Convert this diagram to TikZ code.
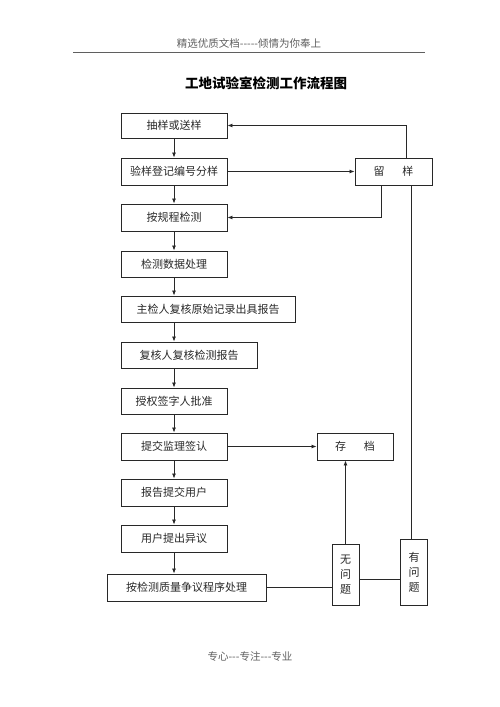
\documentclass[tikz,border=0pt]{standalone}
\usepackage{fontspec}
\setmainfont{Noto Sans CJK SC}
\usetikzlibrary{arrows.meta}
\definecolor{hdr}{RGB}{95,95,95}
\definecolor{ink}{RGB}{40,40,40}
\tikzset{
  box/.style={draw=ink, line width=0.9pt, minimum height=26pt, inner sep=0pt, text=ink, font=\fontsize{11}{13}\selectfont},
  vbox/.style={draw=ink, line width=0.9pt, minimum width=27pt, inner sep=0pt, text=ink, align=center, font=\fontsize{11}{15}\selectfont},
  conn/.style={draw=ink, line width=0.8pt},
  arr/.style={conn, -{Latex[length=5pt,width=4pt]}},
}
\begin{document}
\begin{tikzpicture}[x=1pt,y=-1pt]
\useasboundingbox (0,0) rectangle (500,707);
% header
\node[text=hdr, font=\fontsize{10.5}{12}\selectfont] (hdr) at (249,43) {精选优质文档-{}-{}-{}-{}-倾情为你奉上};
\coordinate (hl) at (73,52);
\coordinate (hr) at (425,52);
\draw[hdr, line width=0.7pt] (hl) -- (hr);
\node[font=\fontsize{13.5}{15}\selectfont\bfseries] (title) at (266,83) {工地试验室检测工作流程图};
\node[text=hdr, font=\fontsize{10.5}{12}\selectfont] (ftr) at (250,656) {专心-{}-{}-专注-{}-{}-专业};
% left column
\node[box, minimum width=106pt, minimum height=25pt] (b1) at (174,125.5) {抽样或送样};
\node[box, minimum width=106pt, minimum height=27pt] (b2) at (174,171.5) {验样登记编号分样};
\node[box, minimum width=106pt, minimum height=27pt] (b3) at (174,217.5) {按规程检测};
\node[box, minimum width=106pt] (b4) at (174,264) {检测数据处理};
\node[box, minimum width=174pt] (b5) at (208,309) {主检人复核原始记录出具报告};
\node[box, minimum width=136pt] (b6) at (189,355) {复核人复核检测报告};
\node[box, minimum width=106pt] (b7) at (174,401) {授权签字人批准};
\node[box, minimum width=106pt, minimum height=27pt] (b8) at (174,446.5) {提交监理签认};
\node[box, minimum width=106pt, minimum height=27pt] (b9) at (174,492.5) {报告提交用户};
\node[box, minimum width=106pt, minimum height=27pt] (b10) at (174,538.5) {用户提出异议};
\node[box, minimum width=159pt, minimum height=27pt] (b11) at (186.5,587.5) {按检测质量争议程序处理};
% right side
\node[box, minimum width=77pt, minimum height=27pt] (ly) at (393.5,171.5) {留\hspace{1.6em}样};
\node[box, minimum width=76pt, minimum height=27pt] (cd) at (355,446.5) {存\hspace{1.6em}档};
\node[vbox, minimum height=61pt] (wu) at (345.5,574.5) {无\\问\\题};
\node[vbox, minimum height=66pt] (yo) at (414,572) {有\\问\\题};
\coordinate (lyt) at ([xshift=12.5pt]ly.north);
\coordinate (lyb1) at ([xshift=-12.5pt]ly.south);
\coordinate (lyb2) at ([xshift=17.5pt]ly.south);
\coordinate (wue) at ([yshift=-4.5pt]wu.east);
% vertical flow
\draw[arr] (b1) -- (b2);
\draw[arr] (b2) -- (b3);
\draw[arr] (b3) -- (b4);
\draw[arr] (b4.south) -- (b4.south |- b5.north);
\draw[arr] (b5.south -| b4.south) -- (b4.south |- b6.north);
\draw[arr] (b6.south -| b4.south) -- (b7.north);
\draw[arr] (b7) -- (b8);
\draw[arr] (b8) -- (b9);
\draw[arr] (b9) -- (b10);
\draw[arr] (b10.south) -- (b10.south |- b11.north);
% sample loop
\draw[arr] (b2) -- (ly);
\draw[arr] (lyt) |- (b1.east);
\draw[arr] (lyb1) |- (b3.east);
\draw[conn] (yo.north -| lyb2) -- (lyb2);
% archive
\draw[arr] (b8) -- (cd);
\draw[arr] (wu.north) -- (wu.north |- cd.south);
\draw[conn] (b11.east) -- (b11.east -| wu.west);
\draw[conn] (wue) -- (wue -| yo.west);
\end{tikzpicture}
\end{document}
